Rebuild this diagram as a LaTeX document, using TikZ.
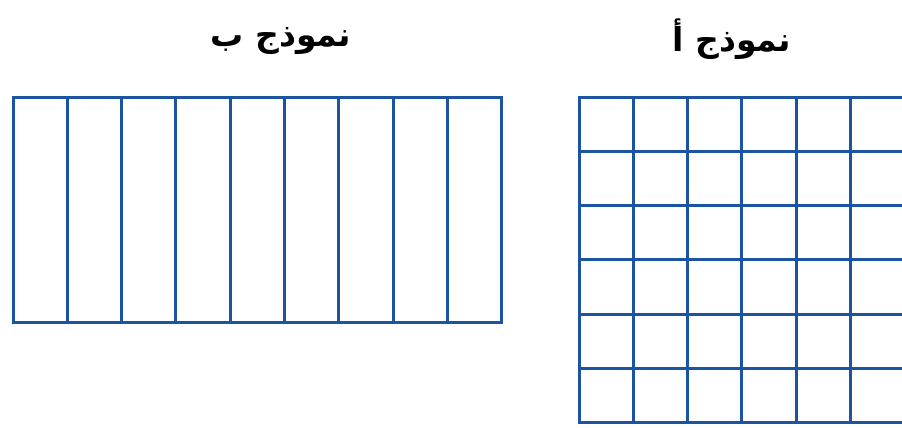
\documentclass[tikz,border=0pt]{standalone}
\usepackage{fontspec}
\newfontfamily\arabicfont[Script=Arabic]{DejaVu Sans}
\TeXXeTstate=1
\definecolor{gridblue}{RGB}{28, 84, 162}
\newcommand*{\cw}{54.3}

\begin{document}
\begin{tikzpicture}[
   x=1pt, y=-1pt,
   gridline/.style={draw=gridblue, line width=3, line cap=rect},
   modeltitle/.style={font=\arabicfont\bfseries\fontsize{33}{36}\selectfont,
                      text=black, inner sep=0}
  ]

  \useasboundingbox (0, 0) rectangle (902, 428);

  % Model B: strips
  \node (titleB) at (281, 41) [modeltitle] {\beginR نموذج ب\endR};
  \draw[gridline] (13, 97) rectangle (13 + 9 * \cw, 97 + 4.15 * \cw);
  \foreach \i in {1, ..., 8} {
    \draw[gridline] (13 + \i * \cw, 97) -- (13 + \i * \cw, 97 + 4.15 * \cw);
  }

  % Model A: squares (runs off the right edge)
  \node (titleA) at (732, 39) [modeltitle] {\beginR نموذج أ\endR};
  \foreach \i in {0, ..., 6} {
    \draw[gridline] (579 + \i * \cw, 97) -- (579 + \i * \cw, 97 + 6 * \cw);
    \draw[gridline] (579, 97 + \i * \cw) -- (579 + 6 * \cw, 97 + \i * \cw);
  }

\end{tikzpicture}
\end{document}
